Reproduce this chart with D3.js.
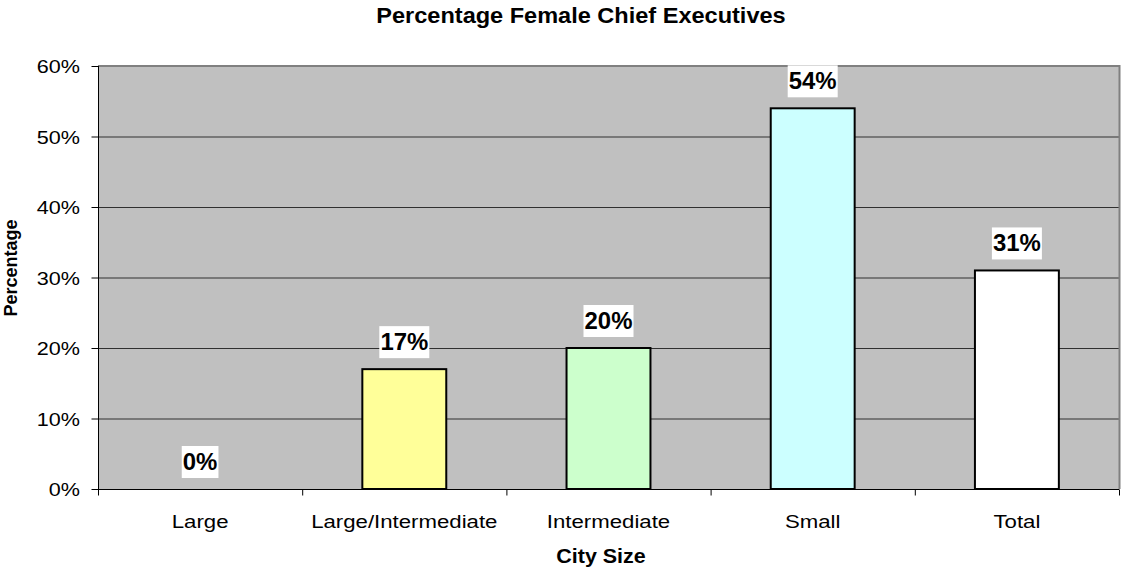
<!DOCTYPE html>
<html>
<head>
<meta charset="utf-8">
<script src="https://cdn.jsdelivr.net/npm/d3@7"></script>
<style>
    body { margin: 0; background: #fff; }
    text { font-family: "Liberation Sans", Arial, sans-serif; fill: #000; }
</style>
</head>
<body>
<svg id="chart" width="1121" height="567"></svg>
<script>
// data
var categories = ["Large", "Large/Intermediate", "Intermediate", "Small", "Total"];
var values = [0, 17, 20, 54, 31];
var yTicks = [0, 10, 20, 30, 40, 50, 60];

var barColors = ["#ffff99", "#ffff99", "#ccffcc", "#ccffff", "#ffffff"];

var svg = d3.select("#chart");
var plotLeft = 98, plotRight = 1119, plotTop = 66, plotBottom = 489;

var x = d3.scaleBand().domain(categories).range([plotLeft, plotRight])
    .paddingInner(0.589).paddingOuter(0.2945);
var xSlots = d3.scaleBand().domain(categories).range([plotLeft, plotRight]).padding(0);
var y = d3.scaleLinear().domain([0, 60]).range([plotBottom, plotTop]);

// helper: text slightly stretched sideways like the original
function label(sel, tx, ty, str, size, weight, sx, anchor, rot) {
    var g = sel.append("g").attr("transform", "translate(" + tx + "," + ty + ")" + (rot ? " rotate(" + rot + ")" : ""));
    g.append("text")
        .attr("transform", "scale(" + sx + ",1)")
        .attr("text-anchor", anchor || "middle")
        .style("font-size", size + "px")
        .style("font-weight", weight)
        .text(str);
    return g;
}

// plot background
svg.append("rect")
    .attr("x", plotLeft).attr("y", plotTop)
    .attr("width", plotRight - plotLeft).attr("height", plotBottom - plotTop)
    .attr("fill", "#c0c0c0");

// gridlines
svg.append("g").selectAll("line")
    .data(yTicks.filter(function(d) { return d > 0 && d < 60; }))
    .enter().append("line")
    .attr("x1", plotLeft).attr("x2", plotRight)
    .attr("y1", function(d) { return y(d) + 0.5; })
    .attr("y2", function(d) { return y(d) + 0.5; })
    .attr("stroke", "#303030").attr("stroke-width", 1);

// top and right frame (gray)
svg.append("path")
    .attr("d", "M" + plotLeft + "," + plotTop + "H" + (plotRight + 0.5) + "V" + plotBottom)
    .attr("fill", "none").attr("stroke", "#808080").attr("stroke-width", 2);

// bars
svg.append("g").selectAll("rect")
    .data(values)
    .enter().append("rect")
    .attr("x", function(d, i) { return x(categories[i]); })
    .attr("y", function(d) { return y(d); })
    .attr("width", x.bandwidth())
    .attr("height", function(d) { return plotBottom - y(d); })
    .attr("fill", function(d, i) { return barColors[i]; })
    .attr("stroke", "#000")
    .attr("stroke-width", function(d) { return d > 0 ? 2 : 0; });

// y axis
var yAxis = d3.axisLeft(y).tickValues(yTicks).tickSize(7).tickFormat(function(d) { return ""; });
var yg = svg.append("g").attr("transform", "translate(" + (plotLeft + 0.5) + ",0)").call(yAxis);
yg.select(".domain").attr("stroke", "#000").attr("d", "M0," + plotTop + "V" + plotBottom);
yg.selectAll(".tick line").attr("stroke", "#000");
yTicks.forEach(function(t) {
    label(svg, 80, y(t) + 7, t + "%", 18, "normal", 1.2, "end");
});

// x axis
var xAxis = d3.axisBottom(xSlots).tickSize(0).tickFormat(function() { return ""; });
var xg = svg.append("g").attr("transform", "translate(0," + (plotBottom + 0.5) + ")").call(xAxis);
xg.select(".domain").attr("stroke", "#000").attr("d", "M" + plotLeft + ",0H" + plotRight);
var edges = categories.map(function(c) { return xSlots(c); }).concat([plotRight]);
xg.selectAll(".edge").data(edges).enter().append("line")
    .attr("class", "edge")
    .attr("x1", function(d) { return d + 0.5; }).attr("x2", function(d) { return d + 0.5; })
    .attr("y1", 0).attr("y2", 6).attr("stroke", "#000");
categories.forEach(function(c) {
    label(svg, xSlots(c) + xSlots.bandwidth() / 2, 528, c, 18.5, "normal", 1.2);
});

// data labels on white boxes
values.forEach(function(v, i) {
    var cx = x(categories[i]) + x.bandwidth() / 2;
    var boxBottom = y(v) - 11;
    var g = svg.append("g");
    var rect = g.append("rect").attr("fill", "#fff");
    var t = label(g, cx, boxBottom - 8, v + "%", 23, "bold", 1.04);
    var bb = t.node().getBBox();
    rect.attr("x", cx - bb.width / 2 - 1).attr("y", boxBottom - 32)
        .attr("width", bb.width + 2).attr("height", 32);
});

// titles
label(svg, 581, 23, "Percentage Female Chief Executives", 21.4, "bold", 1.1);
label(svg, 601, 563, "City Size", 19.5, "bold", 1.1);
label(svg, 17, 268, "Percentage", 18, "bold", 1.0, "middle", -90);
</script>
</body>
</html>
